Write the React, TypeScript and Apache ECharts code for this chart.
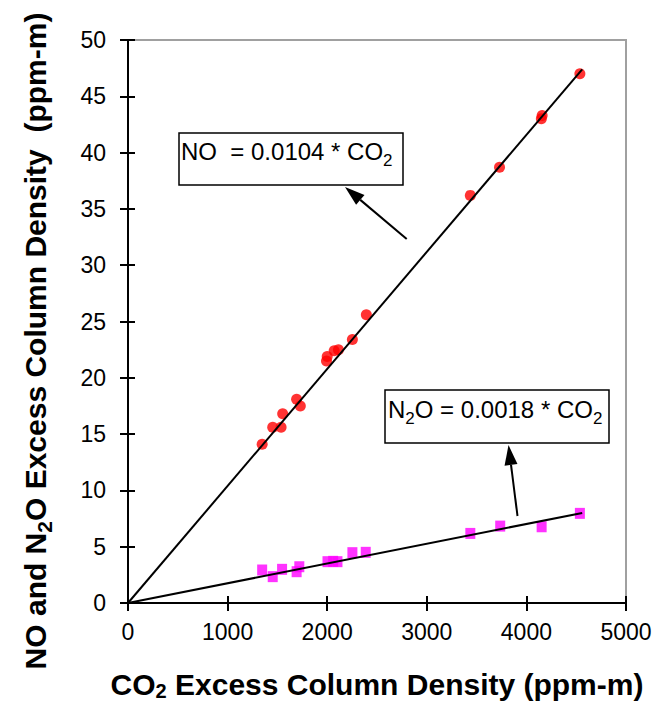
import React, { useEffect, useRef } from "react";
import * as echarts from "echarts";

const noPoints: [number, number][] = [
  [1347, 14.1], [1453, 15.6], [1537, 15.6], [1553, 16.8], [1693, 18.1], [1730, 17.5],
  [1993, 21.5], [2000, 21.9], [2070, 22.4], [2113, 22.5], [2253, 23.4], [2393, 25.6],
  [3437, 36.2], [3730, 38.7], [4150, 43.0], [4158, 43.3], [4537, 47.0],
];
const n2oPoints: [number, number][] = [
  [1347, 2.93], [1453, 2.34], [1547, 2.99], [1693, 2.78], [1720, 3.22], [2003, 3.67],
  [2060, 3.7], [2103, 3.67], [2253, 4.47], [2387, 4.5], [3437, 6.18], [3737, 6.83],
  [4153, 6.77], [4537, 7.96],
];
const noFit: [number, number][] = [[0, 0], [4560, 47.4]];
const n2oFit: [number, number][] = [[0, 0], [4560, 8.0]];

const FONT = "'Liberation Sans', Arial, Helvetica, sans-serif";

function arrow(tail: number[], tip: number[], len = 20, width = 13) {
  const dx = tip[0] - tail[0];
  const dy = tip[1] - tail[1];
  const d = Math.sqrt(dx * dx + dy * dy);
  const ux = dx / d, uy = dy / d;
  const bx = tip[0] - ux * len, by = tip[1] - uy * len;
  const nx = -uy, ny = ux;
  return [
    { type: "line", shape: { x1: tail[0], y1: tail[1], x2: bx, y2: by }, style: { stroke: "#000", lineWidth: 2 }, z: 100 },
    {
      type: "polygon",
      shape: { points: [[tip[0], tip[1]], [bx + nx * width / 2, by + ny * width / 2], [bx - nx * width / 2, by - ny * width / 2]] },
      style: { fill: "#000" },
      z: 100,
    },
  ];
}

const subRich = {
  a: { fontSize: 24, fontFamily: FONT, color: "#000" },
  s: { fontSize: 17, fontFamily: FONT, color: "#000", padding: [18, 0, 0, 0] },
};

const plain = (v: number) => String(v);

export default function App() {
  const ref = useRef<HTMLDivElement>(null);
  useEffect(() => {
    const chart = echarts.init(ref.current!, null, { renderer: "svg" });
    const commonX = { type: "value", min: 0, max: 5000, interval: 1000 };
    const commonY = { type: "value", min: 0, max: 50, interval: 5 };
    chart.setOption({
      animation: false,
      grid: {
        left: 128, right: 36, top: 40, bottom: 99,
        outerBoundsMode: "none", containLabel: false,
        show: true, borderColor: "#a0a0a0", borderWidth: 2, backgroundColor: "transparent",
      },
      xAxis: [
        {
          ...commonX,
          position: "bottom",
          axisLine: { show: true, lineStyle: { color: "#000", width: 2 } },
          axisTick: { show: true, inside: false, length: 8, lineStyle: { color: "#000", width: 2 } },
          axisLabel: { color: "#000", fontSize: 23, fontFamily: FONT, margin: 17, formatter: plain },
          splitLine: { show: false },
          name: "{b|CO}{bs|2}{b| Excess Column Density (ppm-m)}",
          nameLocation: "middle",
          nameGap: 64,
          nameTextStyle: {
            rich: {
              b: { fontSize: 30, fontWeight: "bold", fontFamily: FONT, color: "#000" },
              bs: { fontSize: 20, fontWeight: "bold", fontFamily: FONT, color: "#000", padding: [14, 0, 0, 0] },
            },
          },
        },
        {
          ...commonX,
          position: "bottom",
          axisLine: { show: false },
          axisTick: { show: true, inside: true, length: 7, lineStyle: { color: "#000", width: 2 } },
          axisLabel: { show: false },
          splitLine: { show: false },
        },
      ],
      yAxis: [
        {
          ...commonY,
          position: "left",
          axisLine: { show: true, lineStyle: { color: "#000", width: 2 } },
          axisTick: { show: true, inside: false, length: 8, lineStyle: { color: "#000", width: 2 } },
          axisLabel: { color: "#000", fontSize: 23, fontFamily: FONT, margin: 22, formatter: plain },
          splitLine: { show: false },
        },
        {
          ...commonY,
          position: "left",
          axisLine: { show: false },
          axisTick: { show: true, inside: true, length: 7, lineStyle: { color: "#000", width: 2 } },
          axisLabel: { show: false },
          splitLine: { show: false },
        },
      ],
      series: [
        { type: "scatter", data: noPoints, symbol: "circle", symbolSize: 11, itemStyle: { color: "#ff0000" }, z: 2 },
        { type: "scatter", data: n2oPoints, symbol: "rect", symbolSize: [10, 11], itemStyle: { color: "#ff00ff" }, z: 2 },
        { type: "line", data: noFit, symbol: "none", lineStyle: { color: "#000", width: 2 }, z: 3 },
        { type: "line", data: n2oFit, symbol: "none", lineStyle: { color: "#000", width: 2 }, z: 3 },
      ],
      graphic: [
        {
          type: "text",
          x: 35,
          y: 341,
          rotation: Math.PI / 2,
          style: {
            text: "{b|NO and N}{bs|2}{b|O Excess Column Density  (ppm-m)}",
            align: "center",
            verticalAlign: "middle",
            rich: {
              b: { fontSize: 30, fontWeight: "bold", fontFamily: FONT, fill: "#000" },
              bs: { fontSize: 21, fontWeight: "bold", fontFamily: FONT, fill: "#000", padding: [18, 0, 0, 0] },
            },
          },
        },
        { type: "rect", shape: { x: 179, y: 133, width: 224, height: 52 }, style: { fill: "#fff", stroke: "#000", lineWidth: 1.5 }, z: 100 },
        {
          type: "text", x: 181, y: 151, z: 101,
          style: { text: "{a|NO  = 0.0104 * CO}{s|2}", verticalAlign: "middle", align: "left", rich: subRich },
        },
        { type: "rect", shape: { x: 385, y: 390, width: 224, height: 53 }, style: { fill: "#fff", stroke: "#000", lineWidth: 1.5 }, z: 100 },
        {
          type: "text", x: 388, y: 409, z: 101,
          style: { text: "{a|N}{s|2}{a|O = 0.0018 * CO}{s|2}", verticalAlign: "middle", align: "left", rich: subRich },
        },
        ...arrow([406.7, 239], [345, 187]),
        ...arrow([517.5, 516], [508.5, 445]),
      ],
    });
    return () => chart.dispose();
  }, []);
  return <div ref={ref} style={{ width: 662, height: 702, position: "absolute", left: 0, top: 0 }} />;
}
